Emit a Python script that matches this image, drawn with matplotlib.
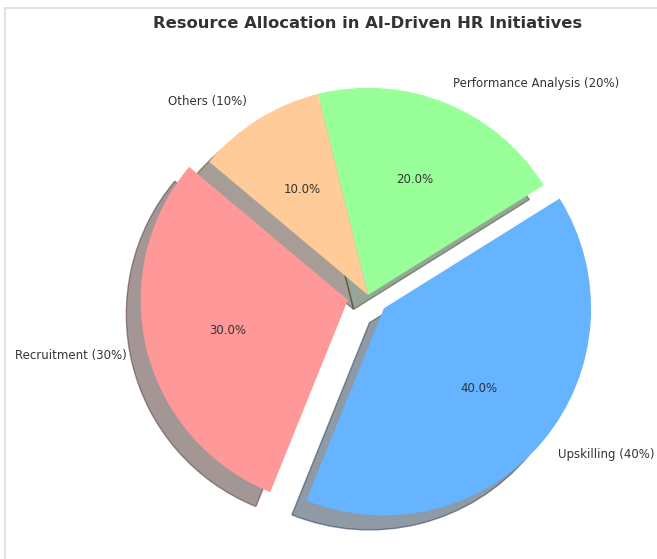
import matplotlib.pyplot as plt
from matplotlib.lines import Line2D

labels = ['Recruitment (30%)', 'Upskilling (40%)', 'Performance Analysis (20%)', 'Others (10%)']
sizes = [30, 40, 20, 10]
colors = ['#ff9999', '#66b3ff', '#99ff99', '#ffcc99']
explode = (0.1, 0.1, 0, 0)

fig = plt.figure(figsize=(6.57, 5.59), dpi=100)
# pie centre near (368, 295) px, radius ~207 px
ax = fig.add_axes([(368 - 259) / 657, (559 - 295 - 259) / 559, 518 / 657, 518 / 559])

ax.pie(sizes, explode=explode, labels=labels, colors=colors, autopct='%1.1f%%',
       shadow={'ox': -0.05, 'oy': -0.05}, startangle=140,
       textprops={'color': '#333333', 'fontsize': 8.5})
ax.set_xlim(-1.25, 1.25)
ax.set_ylim(-1.25, 1.25)
ax.set_aspect('equal', adjustable='box')
ax.set_title('Resource Allocation in AI-Driven HR Initiatives',
             fontsize=11.8, fontweight='bold', color='#333333', pad=6)

# thin frame edges visible at top and left of the original
fig.add_artist(Line2D([5 / 657, 1], [1 - 8 / 559, 1 - 8 / 559], color='#dddddd', lw=1.2))
fig.add_artist(Line2D([5 / 657, 5 / 657], [0, 1 - 8 / 559], color='#dddddd', lw=1.2))

fig.savefig('out.png', dpi=100)
